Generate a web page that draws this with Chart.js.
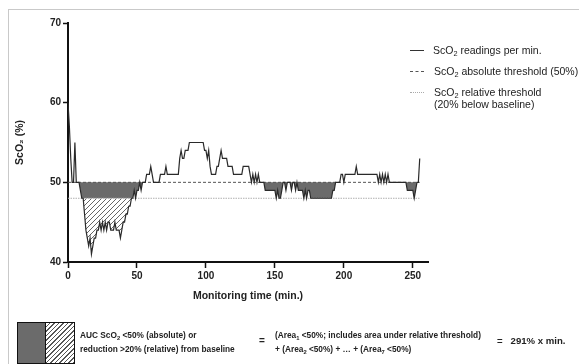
<!DOCTYPE html>
<html>
<head>
<meta charset="utf-8">
<script src="https://cdn.jsdelivr.net/npm/chart.js@4.4.0/dist/chart.umd.min.js"></script>
<style>
  body { margin: 0; background: #fff; font-family: "Liberation Sans", Arial, sans-serif; color: #222; }
  #wrap { position: relative; width: 579px; height: 364px; overflow: hidden; }
  #frame { position: absolute; left: 8px; top: 9px; width: 620px; height: 420px; border: 1px solid #c9c9c9; }
  #chart { position: absolute; left: 0; top: 0; }
  .lg { position: absolute; font-size: 10.5px; white-space: nowrap; line-height: 12px; }
  .sample { position: absolute; width: 14px; height: 0; }
  sub { font-size: 0.7em; vertical-align: -0.3em; line-height: 0; }
  .note { position: absolute; font-size: 8.3px; font-weight: bold; white-space: nowrap; line-height: 14px; }
  #box { position: absolute; left: 17px; top: 322px; width: 56px; height: 40px; border: 1.5px solid #111; display: flex; }
  #box .dark { width: 27px; background: #6b6b6b; border-right: 1.5px solid #111; }
  #box .hatch { flex: 1; background: repeating-linear-gradient(135deg, #fff 0 2.2px, #555 2.2px 3.2px); }
</style>
</head>
<body>
<div id="wrap">
  <div id="frame"></div>
  <canvas id="chart" width="579" height="364"></canvas>

  <div class="sample" style="left:410px; top:50px; border-top:1.2px solid #333;"></div>
  <div class="lg" style="left:433px; top:44px;">ScO<sub>2</sub> readings per min.</div>
  <div class="sample" style="left:410px; top:71px; border-top:1px dashed #555;"></div>
  <div class="lg" style="left:434px; top:65px;">ScO<sub>2</sub> absolute threshold (50%)</div>
  <div class="sample" style="left:410px; top:92px; border-top:1px dotted #aaa;"></div>
  <div class="lg" style="left:434px; top:86px;">ScO<sub>2</sub> relative threshold<br>(20% below baseline)</div>

  <div id="box"><div class="dark"></div><div class="hatch"></div></div>
  <div class="note" style="left:80px; top:328px;">AUC ScO<sub>2</sub> &lt;50% (absolute) or<br>reduction &gt;20% (relative) from baseline</div>
  <div class="note" style="left:259px; top:334px; font-size:10px;">=</div>
  <div class="note" style="left:275px; top:328px;">(Area<sub>1</sub> &lt;50%; includes area under relative threshold)<br>+ (Area<sub>2</sub> &lt;50%) + … + (Area<sub>7</sub> &lt;50%)</div>
  <div class="note" style="left:497px; top:334px; font-size:9.6px;">=&nbsp;&nbsp; 291% x min.</div>
</div>

<script>
// ScO2 readings, one per minute from 0 to 255
const sco2 = [
  60, 57, 53, 50, 50, 55, 50, 50, 50, 49,
  48, 48, 46, 44, 43, 42, 43, 41, 42, 43,
  43, 44, 44, 45, 44, 45, 44, 45, 44, 45,
  45, 44, 44, 44, 45, 44, 44, 44, 43, 44,
  45, 45, 46, 46, 47, 47, 48, 48, 49, 48,
  49, 49, 50, 49, 50, 50, 50, 51, 51, 51,
  52, 51, 50, 50, 50, 50, 50, 51, 51, 51,
  51, 52, 51, 51, 51, 51, 51, 51, 51, 51,
  51, 53, 54, 53, 53, 54, 54, 54, 55, 55,
  55, 55, 55, 55, 55, 55, 55, 55, 55, 54,
  54, 53, 54, 52, 51, 51, 51, 51, 52, 52,
  53, 54, 53, 53, 53, 53, 52, 52, 52, 52,
  51, 51, 51, 51, 51, 51, 51, 52, 52, 52,
  52, 52, 51, 50, 51, 50, 51, 50, 51, 50,
  50, 50, 50, 49, 49, 49, 49, 49, 49, 49,
  49, 48, 49, 48, 48, 49, 50, 50, 49, 50,
  50, 50, 49, 50, 50, 49, 50, 49, 49, 49,
  49, 48, 49, 48, 49, 49, 48, 48, 48, 48,
  48, 48, 48, 48, 48, 48, 48, 48, 48, 48,
  48, 48, 49, 49, 50, 50, 50, 50, 51, 51,
  50, 51, 51, 51, 51, 51, 51, 51, 51, 52,
  51, 51, 51, 51, 51, 51, 51, 51, 51, 51,
  51, 51, 51, 51, 51, 50, 51, 50, 51, 50,
  51, 50, 51, 50, 50, 50, 50, 50, 50, 50,
  50, 50, 50, 50, 50, 50, 49, 49, 49, 49,
  49, 48, 49, 50, 50, 53
];
const absThreshold = 50;   // absolute threshold
const relThreshold = 48;   // 20% below baseline of 60
const xTicks = [0, 50, 100, 150, 200, 250];
const yTicks = [40, 50, 60, 70];

const FONT = '"Liberation Sans", Arial, sans-serif';
const lastMin = sco2.length - 1;

// hatch pattern for the part under the relative threshold
function makeHatch() {
  const c = document.createElement('canvas');
  c.width = 5; c.height = 5;
  const g = c.getContext('2d');
  g.fillStyle = '#fff';
  g.fillRect(0, 0, 5, 5);
  g.strokeStyle = '#555';
  g.lineWidth = 0.9;
  g.beginPath();
  g.moveTo(0, 5); g.lineTo(5, 0);
  g.moveTo(-1, 1); g.lineTo(1, -1);
  g.moveTo(4, 6); g.lineTo(6, 4);
  g.stroke();
  return g.createPattern(c, 'repeat');
}

const readings = sco2.map((v, i) => ({ x: i, y: v }));
const darkEdge = sco2.map((v, i) => ({ x: i, y: Math.min(Math.max(v, relThreshold), absThreshold) }));
const hatchEdge = sco2.map((v, i) => ({ x: i, y: Math.min(v, relThreshold) }));

const flat = { pointRadius: 0, tension: 0 };

new Chart(document.getElementById('chart'), {
  type: 'line',
  data: {
    datasets: [
      { ...flat, data: readings, borderColor: '#2a2a2a', borderWidth: 1.2, fill: false },
      { ...flat, data: [{ x: 0, y: absThreshold }, { x: lastMin, y: absThreshold }],
        borderColor: '#555', borderWidth: 1, borderDash: [3, 2], fill: false },
      { ...flat, data: [{ x: 0, y: relThreshold }, { x: lastMin, y: relThreshold }],
        borderColor: '#b0b0b0', borderWidth: 1, borderDash: [1.5, 1], fill: false },
      { ...flat, data: darkEdge, borderWidth: 0, borderColor: 'rgba(0,0,0,0)',
        backgroundColor: '#6b6b6b', fill: { target: { value: absThreshold } } },
      { ...flat, data: hatchEdge, borderWidth: 0, borderColor: 'rgba(0,0,0,0)',
        backgroundColor: makeHatch(), fill: { target: { value: relThreshold } } }
    ]
  },
  options: {
    responsive: false,
    animation: false,
    layout: { padding: { left: 0, top: 23, right: 151, bottom: 62 } },
    plugins: { legend: { display: false }, tooltip: { enabled: false } },
    scales: {
      x: {
        type: 'linear', min: 0, max: 261,
        afterBuildTicks: s => { s.ticks = xTicks.map(v => ({ value: v })); },
        afterFit: s => { s.height = 40; },
        ticks: { font: { family: FONT, size: 10, weight: 'bold' }, color: '#222', padding: 2 },
        grid: { display: true, drawOnChartArea: false, drawTicks: true, tickLength: 6, tickColor: '#111', tickWidth: 1.5 },
        border: { display: true, color: '#111', width: 2 },
        title: { display: true, text: 'Monitoring time (min.)', color: '#222',
                 font: { family: FONT, size: 10.5, weight: 'bold' }, padding: { top: 0, bottom: 0 } }
      },
      y: {
        min: 40, max: 70,
        afterBuildTicks: s => { s.ticks = yTicks.map(v => ({ value: v })); },
        afterFit: s => { s.width = 68; },
        ticks: { font: { family: FONT, size: 10, weight: 'bold' }, color: '#222', padding: 2 },
        grid: { display: true, drawOnChartArea: false, drawTicks: true, tickLength: 5, tickColor: '#111', tickWidth: 1.5 },
        border: { display: true, color: '#111', width: 2 },
        title: { display: true, text: 'ScO₂ (%)', color: '#222',
                 font: { family: FONT, size: 10.5, weight: 'bold' }, padding: { top: 14, bottom: 0 } }
      }
    }
  }
});
</script>
</body>
</html>
